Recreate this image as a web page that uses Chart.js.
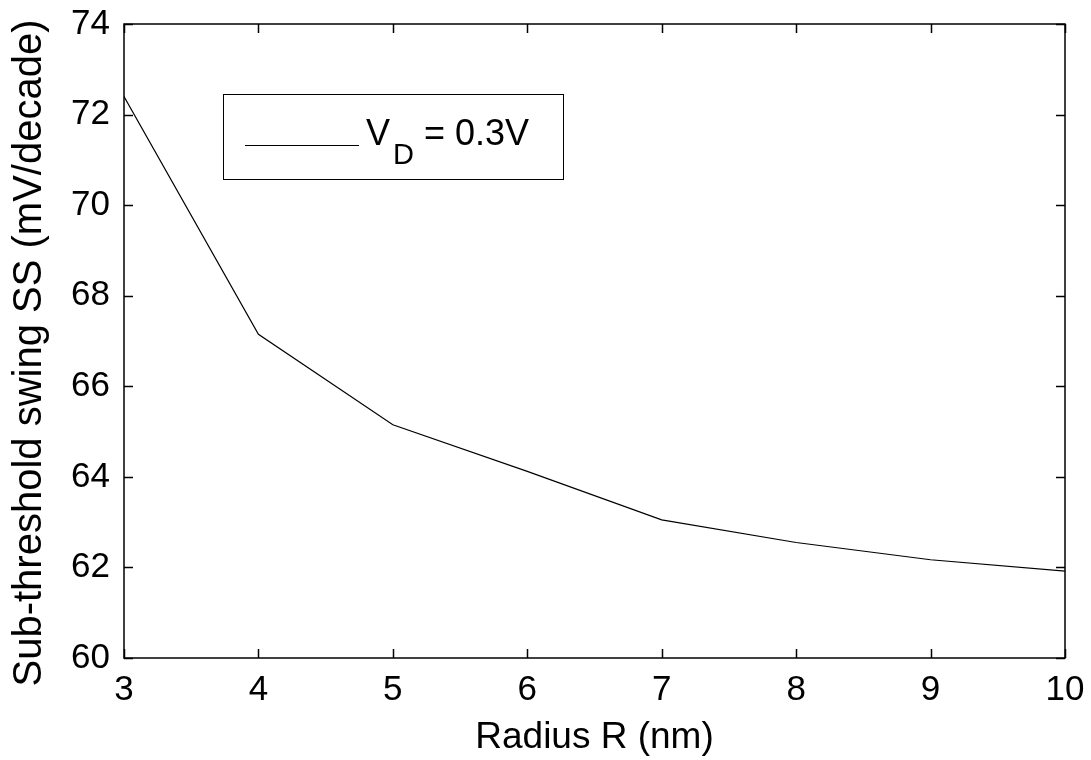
<!DOCTYPE html>
<html>
<head>
<meta charset="utf-8">
<script src="https://cdn.jsdelivr.net/npm/chart.js@4/dist/chart.umd.min.js"></script>
<style>
  html, body { margin: 0; padding: 0; background: #fff; }
  #wrap { width: 1091px; height: 760px; }
</style>
</head>
<body>
<div id="wrap"><canvas id="c" width="1091" height="760"></canvas></div>
<script>
const radius = [3, 4, 5, 6, 7, 8, 9, 10];
const ssValues = [72.4, 67.15, 65.15, 64.12, 63.05, 62.55, 62.17, 61.92];
const xTicks = [3, 4, 5, 6, 7, 8, 9, 10];
const yTicks = [60, 62, 64, 66, 68, 70, 72, 74];
const xTitle = 'Radius R (nm)';
const yTitle = 'Sub-threshold swing SS (mV/decade)';
const legendMain = 'V';
const legendSub = 'D';
const legendRest = ' = 0.3V';

const FONT = '"Liberation Sans", Arial, sans-serif';

const framePlugin = {
  id: 'frame',
  afterDatasetsDraw(chart) {
    const { ctx, chartArea: { left, right, top, bottom }, scales: { x, y } } = chart;
    ctx.save();
    ctx.strokeStyle = '#000';
    ctx.lineWidth = 1.5;
    ctx.strokeRect(left, top, right - left, bottom - top);
    const L = 9;
    ctx.beginPath();
    x.ticks.forEach(t => {
      const px = Math.round(x.getPixelForValue(t.value)) + 0.5;
      ctx.moveTo(px, bottom); ctx.lineTo(px, bottom - L);
      ctx.moveTo(px, top); ctx.lineTo(px, top + L);
    });
    y.ticks.forEach(t => {
      const py = Math.round(y.getPixelForValue(t.value)) + 0.5;
      ctx.moveTo(left, py); ctx.lineTo(left + L, py);
      ctx.moveTo(right, py); ctx.lineTo(right - L, py);
    });
    ctx.stroke();

    // y-axis title
    ctx.save();
    ctx.translate(30, 353);
    ctx.rotate(-Math.PI / 2);
    ctx.fillStyle = '#000';
    ctx.font = '40px ' + FONT;
    ctx.textAlign = 'center';
    ctx.textBaseline = 'middle';
    ctx.fillText(yTitle, 0, 0);
    ctx.restore();

    // legend box
    const bx = 223, by = 94, bw = 340, bh = 85;
    ctx.fillStyle = '#fff';
    ctx.fillRect(bx, by, bw, bh);
    ctx.lineWidth = 1;
    ctx.strokeStyle = '#000';
    ctx.strokeRect(bx + 0.5, by + 0.5, bw, bh);
    ctx.beginPath();
    ctx.moveTo(245, 145.5); ctx.lineTo(359, 145.5);
    ctx.stroke();
    ctx.fillStyle = '#000';
    ctx.textBaseline = 'alphabetic';
    ctx.textAlign = 'left';
    let tx = 366;
    ctx.font = '36px ' + FONT;
    ctx.fillText(legendMain, tx, 145);
    tx += ctx.measureText(legendMain).width + 3;
    ctx.font = '29px ' + FONT;
    ctx.fillText(legendSub, tx, 164);
    tx += ctx.measureText(legendSub).width;
    ctx.font = '36px ' + FONT;
    ctx.fillText(legendRest, tx, 145);
    ctx.restore();
  }
};

new Chart(document.getElementById('c'), {
  type: 'line',
  data: {
    datasets: [{
      label: 'VD = 0.3V',
      data: radius.map((r, i) => ({ x: r, y: ssValues[i] })),
      borderColor: '#000',
      borderWidth: 1.2,
      pointRadius: 0,
      tension: 0,
      fill: false
    }]
  },
  options: {
    responsive: false,
    animation: false,
    devicePixelRatio: 1,
    layout: { padding: { left: 0, right: 26, top: 24, bottom: 0 } },
    plugins: { legend: { display: false }, tooltip: { enabled: false } },
    scales: {
      x: {
        type: 'linear',
        min: 3, max: 10,
        afterBuildTicks: s => { s.ticks = xTicks.map(v => ({ value: v })); },
        afterFit: s => { s.height = 102; s.paddingLeft = 0; s.paddingRight = 0; },
        grid: { display: false, drawTicks: false },
        border: { display: false },
        ticks: { color: '#000', font: { family: FONT, size: 35 }, padding: 11, maxRotation: 0, autoSkip: false },
        title: { display: true, text: xTitle, color: '#000', font: { family: FONT, size: 37 }, padding: { top: 0, bottom: 0 } }
      },
      y: {
        type: 'linear',
        min: 60, max: 74,
        afterBuildTicks: s => { s.ticks = yTicks.map(v => ({ value: v })); },
        afterFit: s => { s.width = 124; s.paddingTop = 0; s.paddingBottom = 0; },
        grid: { display: false, drawTicks: false },
        border: { display: false },
        ticks: { color: '#000', font: { family: FONT, size: 35 }, padding: 14, autoSkip: false },
        title: { display: false, text: yTitle }
      }
    }
  },
  plugins: [framePlugin]
});
</script>
</body>
</html>
